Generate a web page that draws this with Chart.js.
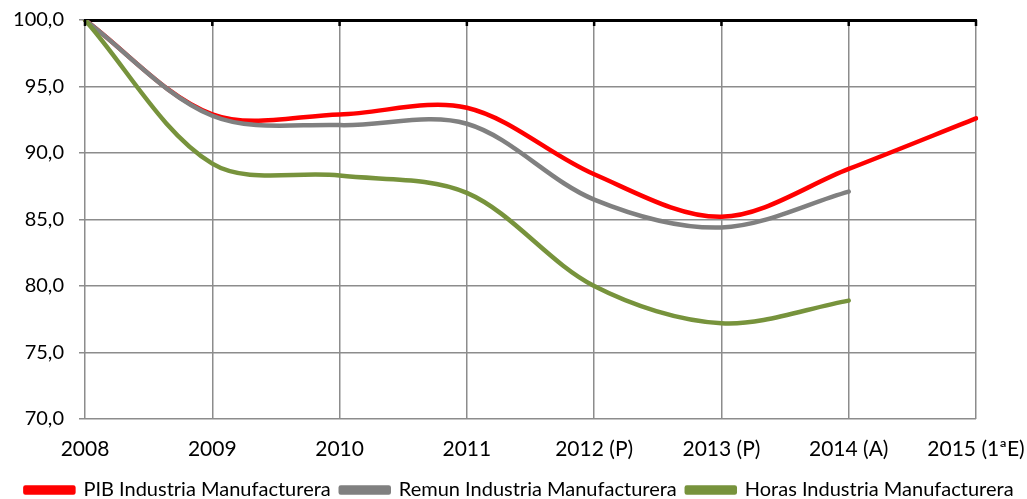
<!DOCTYPE html>
<html>
<head>
<meta charset="utf-8">
<script src="https://cdn.jsdelivr.net/npm/chart.js@4.4.1/dist/chart.umd.min.js"></script>
<style>
  html, body { margin: 0; padding: 0; background: #fff; }
</style>
</head>
<body>
<canvas id="chart" width="1027" height="499"></canvas>
<script>
const years = ['2008', '2009', '2010', '2011', '2012 (P)', '2013 (P)', '2014 (A)', '2015 (1ªE)'];
const pibValues = [100, 92.9, 92.9, 93.4, 88.4, 85.2, 88.8, 92.6];
const remunValues = [100, 92.8, 92.1, 92.2, 86.5, 84.4, 87.1];
const horasValues = [100, 89.2, 88.3, 87.0, 80.0, 77.2, 78.9];
const yTicks = [70, 75, 80, 85, 90, 95, 100];

const gridColor = '#8c8c8c';
const fontFamily = 'Lato, "Noto Sans", sans-serif';

// small tick marks hanging down from the black top axis
const topTicks = {
    id: 'topTicks',
    afterDatasetsDraw(chart) {
        const scale = chart.scales.x2;
        const ctx = chart.ctx;
        ctx.save();
        ctx.strokeStyle = '#000';
        ctx.lineWidth = 2.5;
        years.forEach((y, i) => {
            const px = scale.getPixelForTick(i);
            ctx.beginPath();
            ctx.moveTo(px, chart.chartArea.top);
            ctx.lineTo(px, chart.chartArea.top + 6);
            ctx.stroke();
        });
        ctx.restore();
    }
};

function formatValue(v) {
    return v.toFixed(1).replace('.', ',');
}

new Chart(document.getElementById('chart'), {
    type: 'line',
    data: {
        labels: years,
        datasets: [
            {
                label: 'PIB Industria Manufacturera',
                data: pibValues,
                borderColor: '#ff0000',
                backgroundColor: '#ff0000',
                order: 3
            },
            {
                label: 'Remun Industria Manufacturera',
                data: remunValues,
                borderColor: '#808080',
                backgroundColor: '#808080',
                order: 2
            },
            {
                label: 'Horas Industria Manufacturera',
                data: horasValues,
                borderColor: '#77933c',
                backgroundColor: '#77933c',
                order: 1
            }
        ]
    },
    options: {
        responsive: false,
        animation: false,
        layout: { padding: { left: 12, right: 0, top: 0, bottom: -11 } },
        elements: {
            line: { borderWidth: 4.5, tension: 0.33, borderCapStyle: 'round', borderJoinStyle: 'round' },
            point: { radius: 0 }
        },
        scales: {
            x: {
                position: 'bottom',
                grid: { color: gridColor, lineWidth: 1.5, drawTicks: false },
                border: { display: false },
                ticks: {
                    color: '#000',
                    font: { family: fontFamily, size: 21 },
                    padding: 18,
                    maxRotation: 0,
                    autoSkip: false
                },
                afterFit(scale) {
                    scale.height = 51;
                    scale.paddingLeft = 0;
                    scale.paddingRight = 0;
                }
            },
            x2: {
                position: 'top',
                type: 'category',
                labels: years,
                grid: { display: false, drawTicks: false },
                border: { display: true, color: '#000', width: 3 },
                ticks: { display: false },
                afterFit(scale) { scale.height = 20; }
            },
            y: {
                min: 70,
                max: 100,
                afterBuildTicks(scale) { scale.ticks = yTicks.map(v => ({ value: v })); },
                grid: { color: gridColor, lineWidth: 1.5, drawTicks: true, tickLength: 6 },
                border: { display: false },
                ticks: {
                    color: '#000',
                    font: { family: fontFamily, size: 20 },
                    padding: 15,
                    callback: v => formatValue(v)
                },
                afterFit(scale) {
                    scale.width = 73;
                    scale.paddingTop = 0;
                    scale.paddingBottom = 0;
                }
            },
            // empty axis on the right, only reserves space
            yRight: {
                position: 'right',
                min: 70,
                max: 100,
                grid: { display: false, drawTicks: false },
                border: { display: false },
                ticks: { display: false },
                afterFit(scale) {
                    scale.width = 51;
                    scale.paddingTop = 0;
                    scale.paddingBottom = 0;
                }
            }
        },
        plugins: {
            legend: {
                position: 'bottom',
                labels: {
                    color: '#000',
                    font: { family: fontFamily, size: 20 },
                    boxWidth: 48,
                    boxHeight: 5,
                    padding: 10,
                    sort: (a, b) => a.datasetIndex - b.datasetIndex
                }
            },
            tooltip: { enabled: false }
        }
    },
    plugins: [topTicks]
});
</script>
</body>
</html>
